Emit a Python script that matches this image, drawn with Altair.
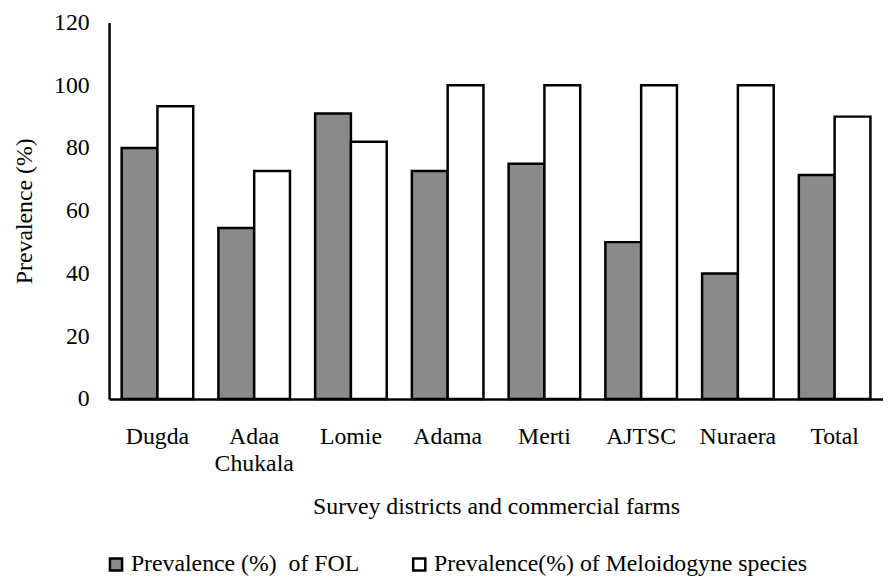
import altair as alt
import pandas as pd

categories = ["Dugda", "Adaa Chukala", "Lomie", "Adama", "Merti", "AJTSC", "Nuraera", "Total"]
fol = [80, 54.5, 91, 72.7, 75, 50, 40, 71.4]
melo = [93.3, 72.7, 82, 100, 100, 100, 100, 90]
series_names = ["Prevalence (%)\u00a0 of FOL", "Prevalence(%) of Meloidogyne species"]

rows = []
for c, a, b in zip(categories, fol, melo):
    rows.append({"cat": c, "series": series_names[0], "value": a})
    rows.append({"cat": c, "series": series_names[1], "value": b})
df = pd.DataFrame(rows)

FONT = "Liberation Serif, Times New Roman, serif"
FS = 24

chart = alt.Chart(df).mark_bar(stroke="black", strokeWidth=2.5).encode(
    x=alt.X("cat:N", sort=categories,
            scale=alt.Scale(paddingInner=0.26, paddingOuter=0.13),
            axis=alt.Axis(title="Survey districts and commercial farms", labelAngle=0,
                          ticks=False, labelPadding=26, titlePadding=20,
                          labelExpr="datum.value == 'Adaa Chukala' ? ['Adaa', 'Chukala'] : datum.value",
                          labelLineHeight=27)),
    xOffset=alt.XOffset("series:N", sort=series_names, scale=alt.Scale(paddingInner=0)),
    y=alt.Y("value:Q", scale=alt.Scale(domain=[0, 120]),
            axis=alt.Axis(title="Prevalence (%)", values=[0, 20, 40, 60, 80, 100, 120],
                          ticks=False, grid=False, labelPadding=20, titlePadding=17)),
    fill=alt.Fill("series:N", sort=series_names,
                  scale=alt.Scale(domain=series_names, range=["#8a8a8a", "#ffffff"]),
                  legend=alt.Legend(title=None, orient="none", direction="horizontal",
                                    legendX=-5, legendY=535, symbolType="square",
                                    symbolSize=150, symbolStrokeColor="black",
                                    symbolStrokeWidth=2.5, columnPadding=48,
                                    labelFont=FONT, labelFontSize=FS, labelColor="black",
                                    labelOffset=3, labelLimit=600)),
).properties(
    width=781, height=380,
    autosize=alt.AutoSizeParams(type="none"),
    padding={"left": 102, "top": 12, "right": 0, "bottom": 179},
).configure_axis(
    domainColor="black", domainWidth=2.5, labelFont=FONT, labelFontSize=FS,
    labelColor="black", titleFont=FONT, titleFontSize=FS, titleColor="black",
    titleFontWeight="normal", grid=False,
).configure_view(stroke=None)

chart.save("out.html", embed_options={"renderer": "svg", "actions": False})
